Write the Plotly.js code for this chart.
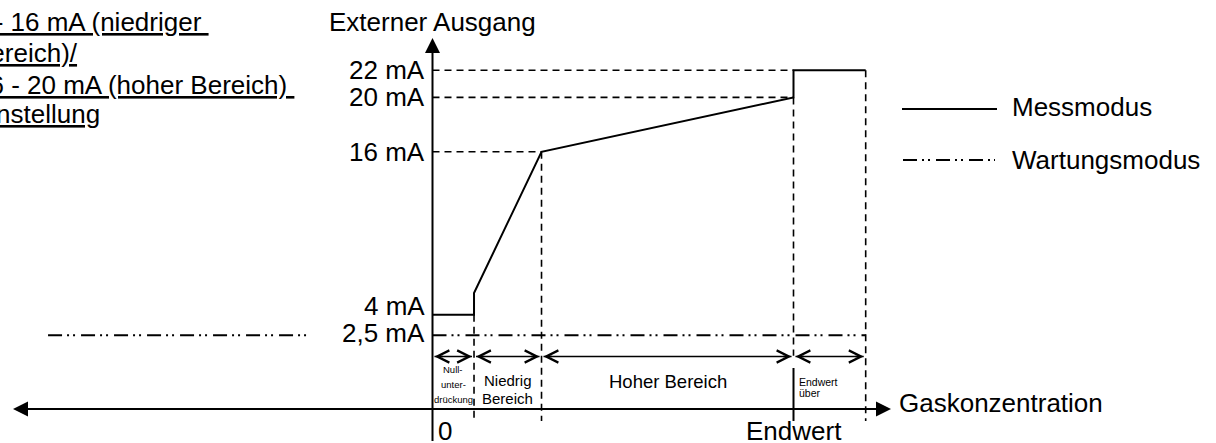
<!DOCTYPE html>
<html><head><meta charset="utf-8">
<script src="https://cdn.plot.ly/plotly-3.0.1.min.js"></script>
<style>html,body{margin:0;padding:0;background:#fff}#chart{width:1216px;height:443px}</style>
</head><body><div id="chart"></div>
<script>
// ---------------- data ----------------
// x: gas concentration in % of full scale (Endwert = 100); y: external output in mA
const measX = [0, 11.5, 11.5, 30.2, 100, 100, 120];
const measY = [4, 4, 5.6, 16, 20, 22, 22];
const maintX = [0, 120];
const maintY = [2.5, 2.5];
const maintLeftX = [-106.5, -35];
const maintLeftY = [2.5, 2.5];
const levelVals = [22, 20, 16, 4, 2.5];
const levelText = ['22 mA', '20 mA', '16 mA', '4 mA', '2,5 mA'];
const regionX = [0, 11.5, 30.2, 100, 120];
const regionNames = [['Null-', 'unter-', 'drückung'], ['Niedrig', 'Bereich'], ['Hoher Bereich'], ['Endwert', 'über']];
const xTickVals = [0, 100];
const xTickText = ['0', 'Endwert'];
const yTitle = 'Externer Ausgang';
const xTitle = 'Gaskonzentration';
const seriesNames = ['Messmodus', 'Wartungsmodus'];
const noteLines = ['4 - 16 mA (niedriger\u00a0', 'Bereich)/', '16 - 20 mA (hoher Bereich)\u00a0', 'Einstellung'];

// ---------------- layout helpers ----------------
const W = 1216, H = 443;
const xRange = [-119.81, 217.04];
const yRange = [-5.430, 27.167];
const px2x = p => xRange[0] + p / W * (xRange[1] - xRange[0]);
const py2y = p => yRange[1] - p / H * (yRange[1] - yRange[0]);
const FONT = 'Liberation Sans, Arial, sans-serif';
const DASHDOT = '14px,5px,2px,4px,2px,6px';
const GUIDE = '7px,5px';

const axisY = py2y(409);       // horizontal axis level
const arrowY = py2y(356.5);    // range arrows level
const guideBottom = py2y(421);
const yAxisTop = py2y(47), yAxisBottom = py2y(441);
const xAxisLeft = px2x(20), xAxisRight = px2x(884);

// guide lines derived from the measurement curve corners
const gx = [], gy = [];
function seg(x0, y0, x1, y1) { gx.push(x0, x1, null); gy.push(y0, y1, null); }
seg(0, 22, 100, 22);
seg(0, 20, 100, 20);
seg(0, 16, regionX[2], 16);
seg(regionX[1], 4, regionX[1], guideBottom);
seg(regionX[2], 16, regionX[2], guideBottom);
seg(regionX[3], 20, regionX[3], arrowY + 0.05);
seg(regionX[4], 22, regionX[4], guideBottom);

const traces = [
  {x: gx, y: gy, mode: 'lines', line: {color: '#000', width: 1.6, dash: GUIDE}, hoverinfo: 'skip', showlegend: false},
  {x: maintX, y: maintY, mode: 'lines', name: seriesNames[1], line: {color: '#000', width: 2, dash: DASHDOT}, showlegend: false},
  {x: maintLeftX, y: maintLeftY, mode: 'lines', line: {color: '#000', width: 2, dash: DASHDOT}, showlegend: false},
  {x: measX, y: measY, mode: 'lines', name: seriesNames[0], line: {color: '#000', width: 2}, showlegend: false}
];

const shapes = [];
const annotations = [];
const lineShape = (x0, y0, x1, y1, w, dash, ref) => Object.assign({type: 'line', x0, y0, x1, y1,
  line: {color: '#000', width: w, dash: dash || 'solid'}}, ref === 'paper' ? {xref: 'paper', yref: 'paper'} : {xref: 'x', yref: 'y'});

// axes
shapes.push(lineShape(xAxisLeft, axisY, xAxisRight, axisY, 2));
shapes.push(lineShape(0, yAxisBottom, 0, yAxisTop, 2));
// Endwert tick (solid)
shapes.push(lineShape(100, py2y(368), 100, guideBottom, 2));

function head(x, y, ax, ay, style, size, width) {
  annotations.push({x, y, xref: 'x', yref: 'y', ax, ay, text: '', showarrow: true,
    arrowhead: style, arrowsize: size, arrowwidth: width, arrowcolor: '#000'});
}
// axis arrowheads
head(px2x(891), axisY, -16, 0, 2, 1.5, 2);
head(px2x(13), axisY, 16, 0, 2, 1.5, 2);
head(0, py2y(38), 0, 16, 2, 1.5, 2);

// range double arrows
for (let i = 0; i < regionX.length - 1; i++) {
  const a = regionX[i] + px2x(2) - px2x(0);
  const b = regionX[i + 1] - (px2x(2) - px2x(0));
  shapes.push(lineShape(a, arrowY, b, arrowY, 1.5));
  head(b, arrowY, -10, 0, 5, 1.6, 1.5);
  head(a, arrowY, 10, 0, 5, 1.6, 1.5);
}

// region labels
const regionFont = [9.5, 15, 18.5, 10.5];
const regionTop = [369, 380, 381, 382];
const regionStep = [15, 18, 0, 11];
regionNames.forEach((lines, i) => {
  const left = i === 3;
  lines.forEach((t, j) => {
    annotations.push({x: left ? regionX[i] : (regionX[i] + regionX[i + 1]) / 2, y: py2y(regionTop[i] + j * regionStep[i]),
      xref: 'x', yref: 'y', text: t, showarrow: false, xanchor: left ? 'left' : 'center', yanchor: 'middle',
      xshift: left ? 3 : 0, font: {family: FONT, size: regionFont[i], color: '#000'}});
  });
});

// level labels
const levelShift = [0, 0, 0, 9, 2];
levelVals.forEach((v, i) => {
  annotations.push({x: 0, y: v, xref: 'x', yref: 'y', text: levelText[i], showarrow: false,
    xanchor: 'right', yanchor: 'middle', xshift: -6, yshift: levelShift[i],
    font: {family: FONT, size: 26, color: '#000'}});
});

// x tick labels
annotations.push({x: xTickVals[0], y: py2y(431), xref: 'x', yref: 'y', text: xTickText[0], showarrow: false,
  xanchor: 'left', yanchor: 'middle', xshift: 3, font: {family: FONT, size: 26, color: '#000'}});
annotations.push({x: xTickVals[1], y: py2y(431), xref: 'x', yref: 'y', text: xTickText[1], showarrow: false,
  xanchor: 'center', yanchor: 'middle', font: {family: FONT, size: 26, color: '#000'}});

// axis titles
annotations.push({x: 0, y: py2y(22), xref: 'x', yref: 'y', text: yTitle, showarrow: false,
  xanchor: 'center', yanchor: 'middle', font: {family: FONT, size: 26, color: '#000'}});
annotations.push({x: px2x(897), y: py2y(403), xref: 'x', yref: 'y', text: xTitle, showarrow: false,
  xanchor: 'left', yanchor: 'middle', font: {family: FONT, size: 26, color: '#000'}});

// legend (drawn)
shapes.push(lineShape(902 / W, 1 - 109 / H, 997 / W, 1 - 109 / H, 2, 'solid', 'paper'));
shapes.push(lineShape(903 / W, 1 - 160 / H, 995 / W, 1 - 160 / H, 2, DASHDOT, 'paper'));
annotations.push({x: 1010 / W, y: 1 - 107 / H, xref: 'paper', yref: 'paper', text: seriesNames[0], showarrow: false,
  xanchor: 'left', yanchor: 'middle', font: {family: FONT, size: 26, color: '#000'}});
annotations.push({x: 1010 / W, y: 1 - 160 / H, xref: 'paper', yref: 'paper', text: seriesNames[1], showarrow: false,
  xanchor: 'left', yanchor: 'middle', font: {family: FONT, size: 26, color: '#000'}});

// note text (cropped at the left edge, as in the reference)
const noteRight = [211, 80, 296, 102];
const noteY = [22, 53, 85, 114];
noteLines.forEach((t, i) => {
  annotations.push({x: noteRight[i] / W, y: 1 - noteY[i] / H, xref: 'paper', yref: 'paper', text: t, showarrow: false,
    xanchor: 'right', yanchor: 'middle', font: {family: FONT, size: 26, color: '#000', lineposition: 'under'}});
});

const layout = {
  width: W, height: H, margin: {l: 0, r: 0, t: 0, b: 0},
  paper_bgcolor: '#fff', plot_bgcolor: '#fff', showlegend: false,
  xaxis: {range: xRange, visible: false, fixedrange: true},
  yaxis: {range: yRange, visible: false, fixedrange: true},
  shapes, annotations
};
Plotly.newPlot('chart', traces, layout, {displayModeBar: false, staticPlot: true});
</script>
</body></html>
